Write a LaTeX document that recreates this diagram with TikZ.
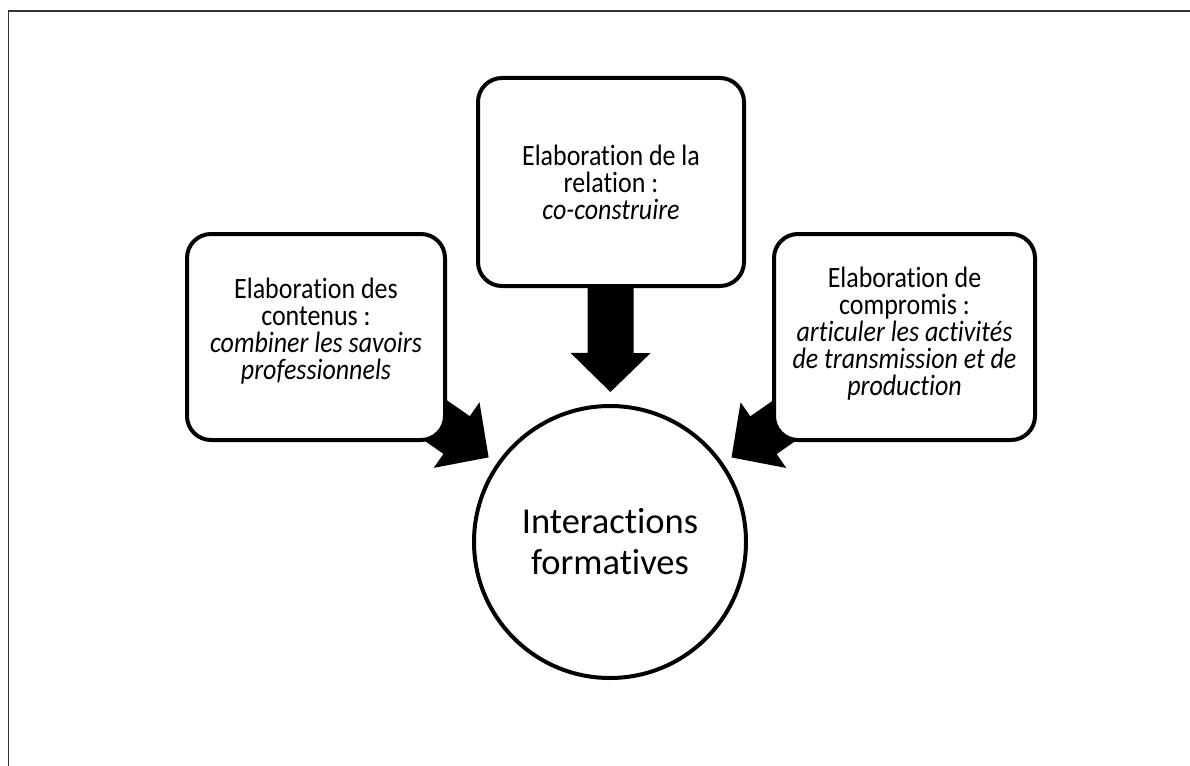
\documentclass[tikz,border=0pt]{standalone}
\usepackage{fontspec}
\setmainfont[Ligatures=NoCommon]{Carlito}
\newfontfamily\boxfont[FakeStretch=0.88, Ligatures=NoCommon]{Carlito}
\usetikzlibrary{calc}
\pgfdeclarelayer{bg}
\pgfsetlayers{bg,main}
\newcommand{\fatarrow}[2]{%
  \coordinate (hb) at ($(#2)!39pt!(#1)$);
  \fill[black] ($(#1)!23pt!90:(#2)$) -- ($(hb)!23pt!90:(#2)$) -- ($(hb)!40pt!90:(#2)$) -- (#2)
    -- ($(hb)!40pt!-90:(#2)$) -- ($(hb)!23pt!-90:(#2)$) -- ($(#1)!23pt!-90:(#2)$) -- cycle;}
\begin{document}
\begin{tikzpicture}[x=1pt,y=-1pt,
  box/.style={draw, line width=4pt, rounded corners=24pt, fill=white, align=center,
    inner sep=0pt, font=\boxfont\fontsize{29.5}{27}\selectfont},
  hub/.style={circle, draw, line width=4pt, fill=white, align=center, inner sep=0pt,
    minimum size=272pt, font=\fontsize{36.5}{41}\selectfont},
  frame/.style={line width=1.3pt, black!80}]
\useasboundingbox (0,0) rectangle (1190,765);
\draw[frame] (8.5,780) -- (8.5,11) -- (1200,11);
\node[box, minimum width=266pt, minimum height=208pt] (top) at (611,182)
  {Elaboration de la\\relation :\\\textit{co-construire}};
\node[box, minimum width=258pt, minimum height=206pt, text depth=16pt] (left) at (316,337)
  {Elaboration des\\contenus :\\\textit{combiner les savoirs}\\\textit{professionnels}};
\node[box, minimum width=261pt, minimum height=206pt, text depth=12pt] (right) at (904.5,337)
  {Elaboration de\\compromis :\\\textit{articuler les activités}\\\textit{de transmission et de}\\\textit{production}};
\node[hub] (circ) at (610,542) {Interactions\\formatives};
\coordinate (tipT) at ($(circ.center)!150pt!(top.center)$);
\coordinate (tipL) at ($(circ.center)!148pt!(left.center)$);
\coordinate (tipR) at ($(circ.center)!148pt!(right.center)$);
\begin{pgfonlayer}{bg}
\fatarrow{top.center}{tipT}
\fatarrow{left.center}{tipL}
\fatarrow{right.center}{tipR}
\end{pgfonlayer}
\end{tikzpicture}
\end{document}
